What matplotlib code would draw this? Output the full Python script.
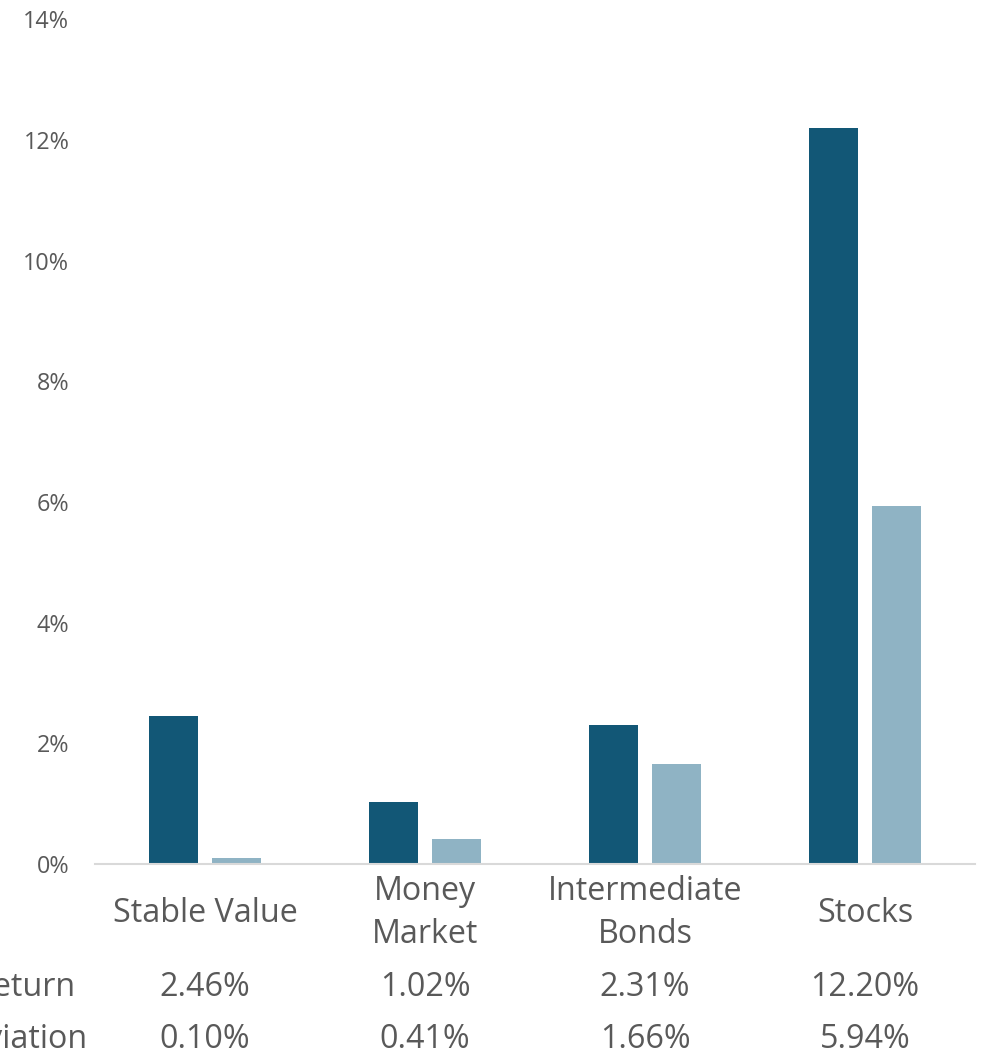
import matplotlib
matplotlib.use("Agg")
import matplotlib.pyplot as plt
import matplotlib.transforms as mtransforms
import numpy as np

categories = ["Stable Value", "Money\nMarket", "Intermediate\nBonds", "Stocks"]
returns = [2.46, 1.02, 2.31, 12.20]
std_devs = [0.10, 0.41, 1.66, 5.94]
return_labels = ["2.46%", "1.02%", "2.31%", "12.20%"]
std_labels = ["0.10%", "0.41%", "1.66%", "5.94%"]
row_labels = ["Return", "Standard Deviation"]
yticks = [0, 2, 4, 6, 8, 10, 12, 14]

plt.rcParams['font.family'] = ['Open Sans', 'DejaVu Sans']
text_color = "#595959"
dark = "#125776"
light = "#8fb3c4"

W, H = 984, 1053
fig = plt.figure(figsize=(W/100, H/100), dpi=100)
ax_left, ax_right = 95, 975
ax_bottom, ax_top = 864, 19.5
ax = fig.add_axes([ax_left/W, 1 - ax_bottom/H, (ax_right-ax_left)/W, (ax_bottom-ax_top)/H])

x = np.arange(len(categories))
bw = 0.223
off = 0.143
ax.bar(x - off, returns, width=bw, color=dark)
ax.bar(x + off, std_devs, width=bw, color=light)

ax.set_xlim(-0.5, 3.5)
ax.set_ylim(0, 14)
ax.set_yticks(yticks)
ax.set_yticklabels([f"{t}%" for t in yticks], fontsize=16.8, color=text_color)
ax.tick_params(axis='y', length=0, pad=18.5)
ax.set_xticks([])
for s in ["top", "right", "left"]:
    ax.spines[s].set_visible(False)
ax.spines["bottom"].set_color("#d9d9d9")
ax.spines["bottom"].set_linewidth(1.5)

trans = mtransforms.blended_transform_factory(ax.transData, fig.transFigure)
def fy(py):
    return 1 - py / H

fs = 23.2
for i, c in enumerate(categories):
    ax.text(i, fy(913), c, transform=trans, ha='center', va='center',
            fontsize=fs, color=text_color, linespacing=1.42)
    ax.text(i, fy(987), return_labels[i], transform=trans, ha='center', va='center',
            fontsize=fs, color=text_color)
    ax.text(i, fy(1039), std_labels[i], transform=trans, ha='center', va='center',
            fontsize=fs, color=text_color)

fig.text(76/W, fy(987), row_labels[0], ha='right', va='center', fontsize=fs, color=text_color)
fig.text(87/W, fy(1039), row_labels[1], ha='right', va='center', fontsize=fs, color=text_color)

fig.savefig("out.png", dpi=100)
